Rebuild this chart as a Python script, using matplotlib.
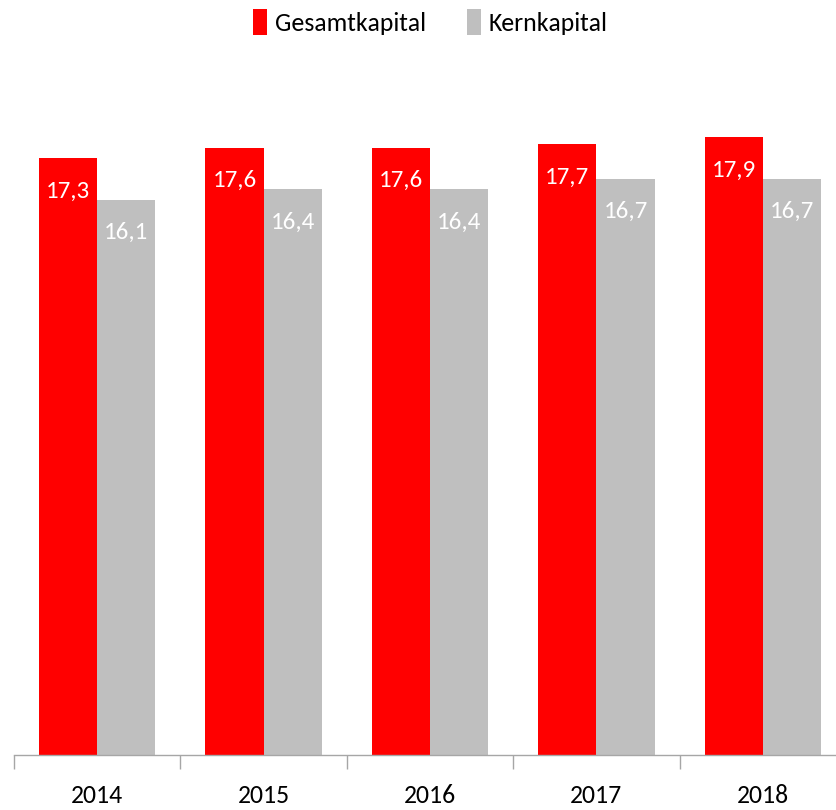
import matplotlib.pyplot as plt
import numpy as np

plt.rcParams['font.family'] = ['Carlito', 'Lato', 'DejaVu Sans']

years = ["2014", "2015", "2016", "2017", "2018"]
gesamt = [17.3, 17.6, 17.6, 17.7, 17.9]
kern = [16.1, 16.4, 16.4, 16.7, 16.7]

red = "#ff0000"
grey = "#bfbfbf"

fig = plt.figure(figsize=(8.36, 8.10), dpi=100)
ax = fig.add_axes([14 / 836, 55 / 810, 832 / 836, 690 / 810])

x = np.arange(len(years))
w = 0.35
b1 = ax.bar(x - w / 2, gesamt, w, color=red, label="Gesamtkapital")
b2 = ax.bar(x + w / 2, kern, w, color=grey, label="Kernkapital")

for bars, vals in [(b1, gesamt), (b2, kern)]:
    for rect, v in zip(bars, vals):
        ax.annotate(f"{v:.1f}".replace(".", ","),
                    (rect.get_x() + rect.get_width() / 2, rect.get_height()),
                    xytext=(0, -16), textcoords="offset points",
                    ha="center", va="top", color="white", fontsize=18)

ax.set_xlim(-0.5, 4.5)
ax.set_ylim(0, 20)
for s in ["top", "right", "left"]:
    ax.spines[s].set_visible(False)
ax.spines["bottom"].set_color("#a6a6a6")
ax.spines["bottom"].set_linewidth(1)
ax.set_yticks([])
ax.set_xticks(x)
ax.set_xticklabels(years, fontsize=18.5)
ax.tick_params(axis="x", which="major", length=0, pad=21)
ax.set_xticks(np.arange(-0.5, 5, 1), minor=True)
ax.tick_params(axis="x", which="minor", length=10, color="#a6a6a6", width=1)

fig.legend(handles=[b1, b2], loc="center", bbox_to_anchor=(0.515, 0.973),
           ncol=2, frameon=False, fontsize=18.5, handlelength=0.55,
           handleheight=1.2, handletextpad=0.3, columnspacing=1.6)

fig.savefig("out.png", dpi=100)
